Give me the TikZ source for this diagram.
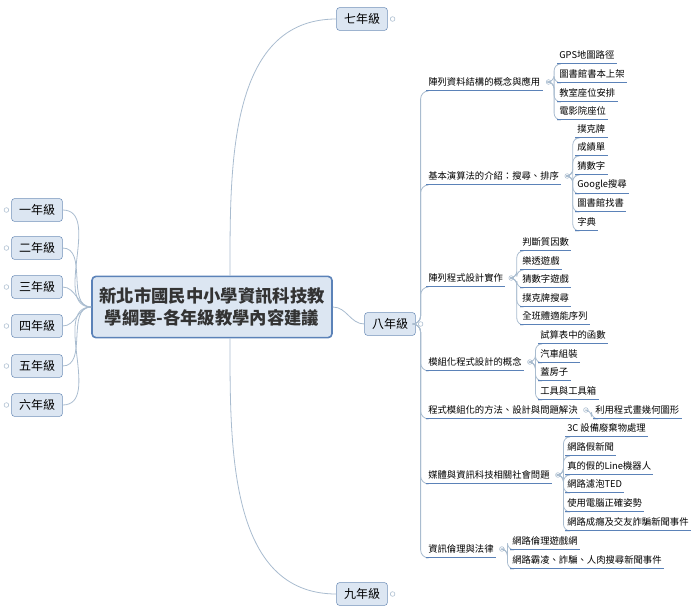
\documentclass[tikz,border=0pt]{standalone}
\usepackage{fontspec}
\setmainfont{Noto Sans CJK TC}
\usetikzlibrary{calc}
\definecolor{boxfill}{HTML}{DCE6F2}
\definecolor{boxline}{HTML}{6F8FB8}
\definecolor{uline}{HTML}{5B82B8}
\definecolor{wire}{HTML}{A9BCCF}
\tikzset{
	grade/.style = {draw = boxline, fill = boxfill, rounded corners = 2pt, font = \fontsize{9}{10}\selectfont, minimum width = 38pt, minimum height = 17pt, inner sep = 2pt},
	topic/.style = {anchor = west, font = \fontsize{7}{8}\selectfont, minimum height = 13pt, inner sep = 1.5pt},
	knob/.style = {circle, draw = wire, fill = white, minimum size = 3.5pt, inner sep = 0pt},
	wireline/.style = {draw = wire, line width = 0.6pt},
	under/.style = {draw = uline, line width = 0.8pt}
}
\newcommand{\uline}[1]{\draw [under] (#1.south west) -- (#1.south east);}
\begin{document}
\begin{tikzpicture}[x = 0.75pt, y = -0.75pt]

	\useasboundingbox (0, 0) rectangle (700, 614);

	% Centre

	\node [draw = uline, line width = 1.2pt, fill = boxfill, rounded corners = 3pt, minimum width = 180pt, minimum height = 46pt, align = center, font = \fontsize{13}{17}\selectfont\bfseries, text = black!80] (root) at (212, 307) {新北市國民中小學資訊科技教\\學綱要-各年級教學內容建議};

	% Left grades

	\foreach \y/\s [count = \i] in {210/一年級, 248/二年級, 287/三年級, 326/四年級, 366/五年級, 405/六年級} {
		\node [grade] (g\i) at (37, \y) {\s};
		\node [knob] at ($(g\i.west) + (-5, 0)$) {};
		\draw [wireline] (root.west) to [out = 180, in = 0] (g\i.east);
	}

	% Right grades

	\node [grade] (g7) at (362, 19) {七年級};
	\node [grade] (g8) at (390, 324) {八年級};
	\node [grade] (g9) at (362, 594) {九年級};
	\foreach \g in {7, 8, 9}
		\node [knob] at ($(g\g.east) + (5, 0)$) {};
	\draw [wireline] ($(root.north) + (18, 0)$) to [out = 90, in = 180] (g7.west);
	\draw [wireline] (root.east) to [out = 0, in = 180] (g8.west);
	\draw [wireline] ($(root.south) + (18, 0)$) to [out = -90, in = 180] (g9.west);

	% Eighth grade topics

	\foreach \y/\s [count = \i] in {82/陣列資料結構的概念與應用, 176/基本演算法的介紹：搜尋、排序, 278/陣列程式設計實作, 362/模組化程式設計的概念, 410/程式模組化的方法、設計與問題解決, 475/媒體與資訊科技相關社會問題, 549/資訊倫理與法律} {
		\node [topic] (t\i) at (426, \y) {\s};
		\node [knob] (k\i) at ($(t\i.east) + (6, 0)$) {};
		\draw [wireline, rounded corners = 6pt] (g8.east) -- ++(5, 0) |- (t\i.south west);
		\uline{t\i}
	}

	% Examples

	\foreach \k/\x/\list in {
		1/557/{55/GPS地圖路徑, 74/圖書館書本上架, 93/教室座位安排, 111/電影院座位},
		2/575/{129/撲克牌, 147/成績單, 166/猜數字, 185/Google搜尋, 203/圖書館找書, 222/字典},
		3/520/{242/判斷質因數, 261/樂透遊戲, 279/猜數字遊戲, 298/撲克牌搜尋, 316/全班體適能序列},
		4/538/{335/試算表中的函數, 354/汽車組裝, 372/蓋房子, 391/工具與工具箱},
		5/593/{410/利用程式畫幾何圖形},
		6/565/{428/3C 設備廢棄物處理, 447/網路假新聞, 466/真的假的Line機器人, 484/網路濾泡TED, 503/使用電腦正確姿勢, 522/網路成癮及交友詐騙新聞事件},
		7/510/{541/網路倫理遊戲網, 560/網路霸凌、詐騙、人肉搜尋新聞事件}}
		\foreach \y/\s [count = \j] in \list {
			\node [topic] (e\k-\j) at (\x, \y) {\s};
			\draw [wireline, rounded corners = 5pt] (k\k.east) -- ++(3, 0) |- (e\k-\j.south west);
			\uline{e\k-\j}
		}

\end{tikzpicture}
\end{document}
